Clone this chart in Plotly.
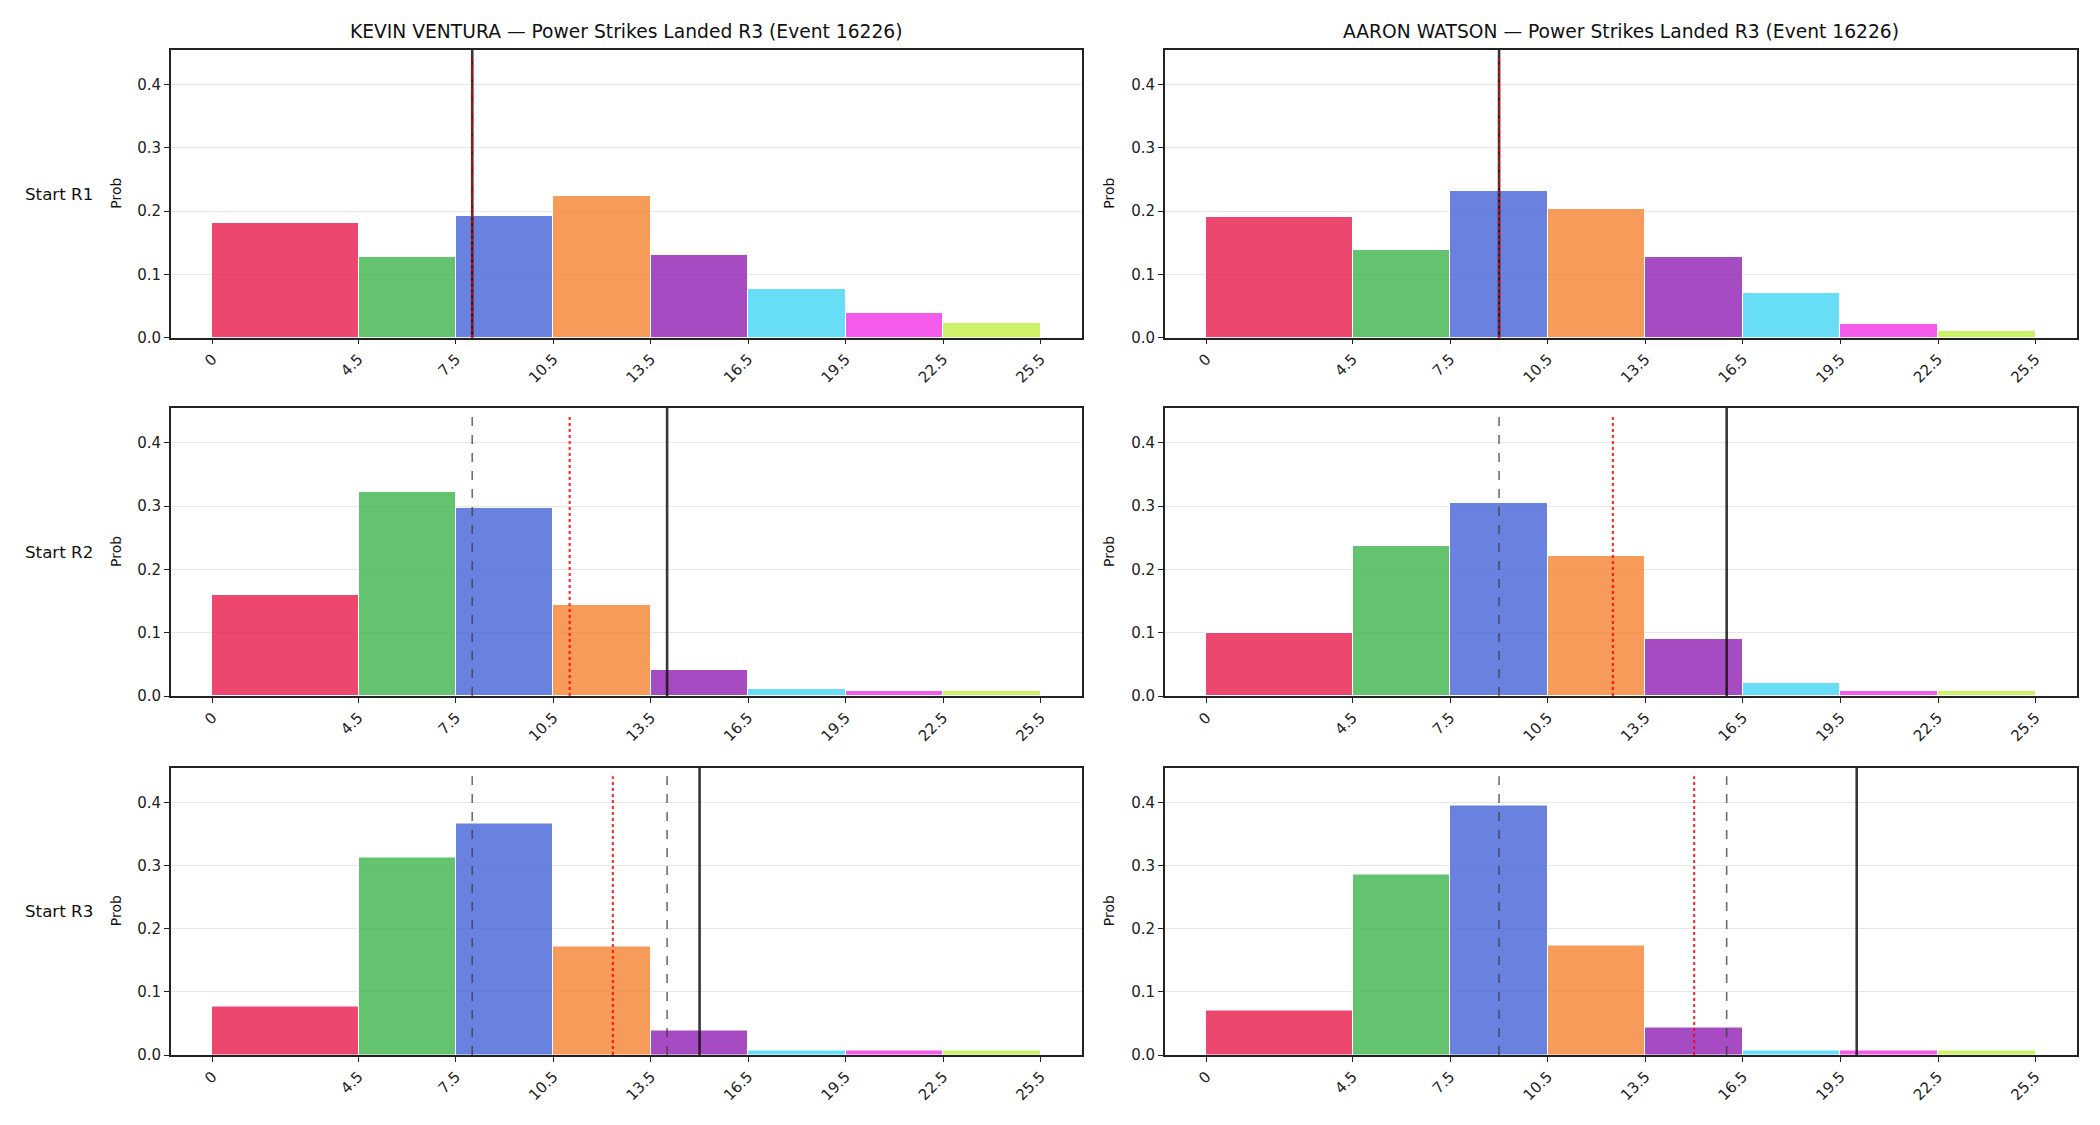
import plotly.graph_objects as go

# ---------------- data ----------------
bin_edges = [0, 4.5, 7.5, 10.5, 13.5, 16.5, 19.5, 22.5, 25.5]
tick_labels = ["0", "4.5", "7.5", "10.5", "13.5", "16.5", "19.5", "22.5", "25.5"]
bin_colors = ["#e6194b", "#3cb44b", "#4363d8", "#f58231",
              "#911eb4", "#42d4f4", "#f032e6", "#bfef45"]
fighters = ["KEVIN VENTURA", "AARON WATSON"]
row_labels = ["Start R1", "Start R2", "Start R3"]
title_suffix = " — Power Strikes Landed R3 (Event 16226)"

kevin_r1 = [0.182, 0.127, 0.193, 0.224, 0.131, 0.076, 0.038, 0.023]
kevin_r2 = [0.159, 0.322, 0.297, 0.144, 0.041, 0.011, 0.008, 0.008]
kevin_r3 = [0.077, 0.312, 0.366, 0.172, 0.039, 0.007, 0.007, 0.007]
aaron_r1 = [0.190, 0.139, 0.232, 0.204, 0.128, 0.070, 0.021, 0.011]
aaron_r2 = [0.100, 0.237, 0.305, 0.221, 0.090, 0.020, 0.008, 0.008]
aaron_r3 = [0.071, 0.285, 0.395, 0.173, 0.043, 0.007, 0.007, 0.007]

kevin_dashed = [[8.0], [8.0], [8.0, 14.0]]
kevin_dotted = [8.0, 11.0, 12.33]
kevin_solid = [8.0, 14.0, 15.0]
aaron_dashed = [[9.0], [9.0], [9.0, 16.0]]
aaron_dotted = [9.0, 12.5, 15.0]
aaron_solid = [9.0, 16.0, 20.0]

probs = [[kevin_r1, aaron_r1], [kevin_r2, aaron_r2], [kevin_r3, aaron_r3]]
dashed = [kevin_dashed, aaron_dashed]
dotted = [kevin_dotted, aaron_dotted]
solid = [kevin_solid, aaron_solid]

# ---------------- layout geometry ----------------
W, H = 2100, 1125
col_dom = [[171 / W, 1082 / W], [1165 / W, 2077 / W]]
row_px = [(50, 337.5), (408, 696), (767.5, 1055)]
row_dom = [[1 - b / H, 1 - t / H] for (t, b) in row_px]
prob_x = [116 / W, 1109 / W]

FONT = "DejaVu Sans"


def rgba(hexc, a):
    hexc = hexc.lstrip("#")
    r, g, b = int(hexc[0:2], 16), int(hexc[2:4], 16), int(hexc[4:6], 16)
    return f"rgba({r},{g},{b},{a})"


centers = [(bin_edges[i] + bin_edges[i + 1]) / 2 for i in range(len(bin_edges) - 1)]
widths = [bin_edges[i + 1] - bin_edges[i] for i in range(len(bin_edges) - 1)]

fig = go.Figure()
shapes = []
annotations = []
layout_axes = {}

for r in range(3):
    for c in range(2):
        idx = r * 2 + c + 1
        xname = "x" if idx == 1 else f"x{idx}"
        yname = "y" if idx == 1 else f"y{idx}"
        fig.add_trace(go.Bar(
            x=centers, y=probs[r][c], width=widths,
            marker=dict(color=[rgba(col, 0.8) for col in bin_colors],
                        line=dict(color="white", width=1)),
            xaxis=xname, yaxis=yname, showlegend=False,
        ))
        xa = "xaxis" if idx == 1 else f"xaxis{idx}"
        ya = "yaxis" if idx == 1 else f"yaxis{idx}"
        layout_axes[xa] = dict(
            domain=col_dom[c], anchor=yname, range=[-1.275, 26.775],
            tickmode="array", tickvals=bin_edges, ticktext=tick_labels,
            tickangle=-45, ticks="outside", ticklen=5, tickwidth=1.2,
            tickcolor="#222", showline=True, mirror=True, linecolor="#222",
            linewidth=1.8, showgrid=False, zeroline=False, automargin=False,
            tickfont=dict(family=FONT, size=15, color="#222"),
        )
        layout_axes[ya] = dict(
            domain=row_dom[r], anchor=xname, range=[0, 0.455],
            tickmode="array", tickvals=[0, 0.1, 0.2, 0.3, 0.4],
            ticktext=["0.0", "0.1", "0.2", "0.3", "0.4"],
            ticks="outside", ticklen=5, tickwidth=1.2, tickcolor="#222",
            showline=True, mirror=True, linecolor="#222", linewidth=1.8,
            showgrid=True, gridcolor="#e6e6e6", gridwidth=1, zeroline=False,
            automargin=False,
            tickfont=dict(family=FONT, size=15, color="#222"),
        )
        # vertical reference lines
        for xv in dashed[c][r]:
            shapes.append(dict(type="line", xref=xname, yref=f"{yname} domain",
                               x0=xv, x1=xv, y0=0, y1=0.97, layer="above",
                               line=dict(color="rgba(60,60,60,0.75)", width=1.6, dash="dash")))
        shapes.append(dict(type="line", xref=xname, yref=f"{yname} domain",
                           x0=solid[c][r], x1=solid[c][r], y0=0, y1=1, layer="above",
                           line=dict(color="rgba(20,20,20,0.85)", width=2.6)))
        shapes.append(dict(type="line", xref=xname, yref=f"{yname} domain",
                           x0=dotted[c][r], x1=dotted[c][r], y0=0, y1=0.97, layer="above",
                           line=dict(color="rgba(255,0,0,0.8)", width=2.2, dash="dot")))
        # "Prob" label
        annotations.append(dict(
            x=prob_x[c], y=sum(row_dom[r]) / 2, xref="paper", yref="paper",
            text="Prob", textangle=-90, showarrow=False, xanchor="center",
            yanchor="middle", font=dict(family=FONT, size=14, color="#111"),
        ))

for r in range(3):
    annotations.append(dict(
        x=23 / W, y=sum(row_dom[r]) / 2, xref="paper", yref="paper",
        text=row_labels[r], showarrow=False, xanchor="left", yanchor="middle",
        font=dict(family=FONT, size=16.7, color="#111"),
    ))

for c in range(2):
    annotations.append(dict(
        x=sum(col_dom[c]) / 2, y=1 - 31 / H, xref="paper", yref="paper",
        text=fighters[c] + title_suffix, showarrow=False, xanchor="center",
        yanchor="middle", font=dict(family=FONT, size=18.7, color="#111"),
    ))

fig.update_layout(
    width=W, height=H, margin=dict(l=0, r=0, t=0, b=0),
    paper_bgcolor="white", plot_bgcolor="white",
    barmode="overlay", bargap=0,
    shapes=shapes, annotations=annotations,
    font=dict(family=FONT),
    **layout_axes,
)

fig.write_html("out.html")
